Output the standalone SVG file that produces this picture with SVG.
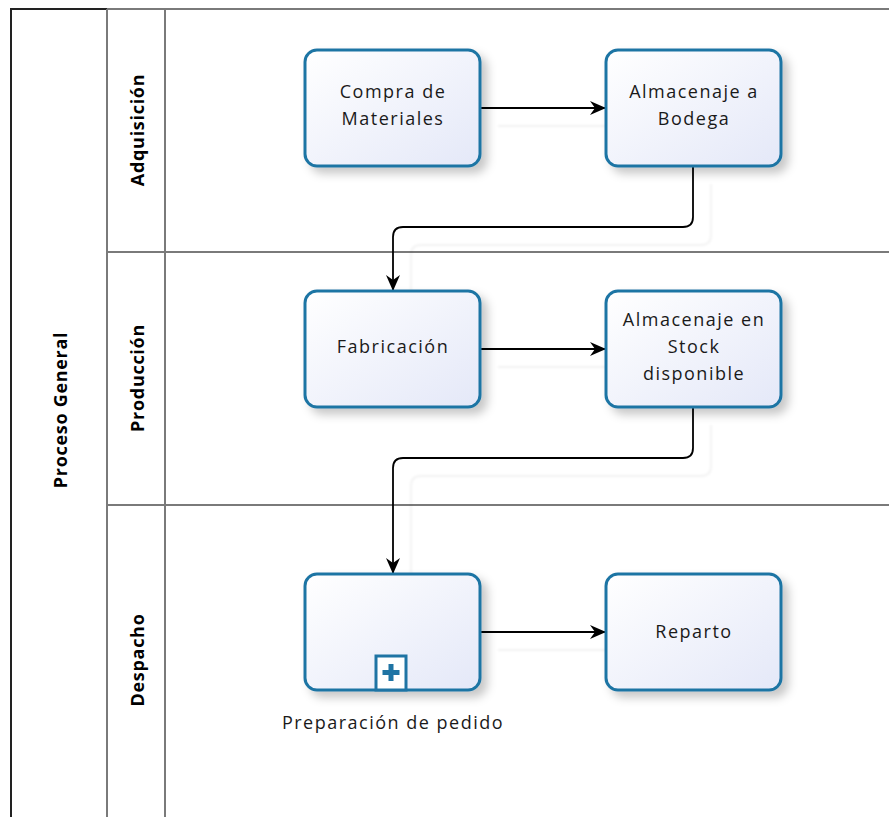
<svg xmlns="http://www.w3.org/2000/svg" width="889" height="817" viewBox="0 0 889 817">
  <defs>
    <linearGradient id="taskFill" x1="0" y1="0" x2="1" y2="1">
      <stop offset="0" stop-color="#ffffff"/>
      <stop offset="1" stop-color="#e4e8f8"/>
    </linearGradient>
    <filter id="shadow" x="-20%" y="-20%" width="150%" height="150%">
      <feDropShadow dx="6" dy="6" stdDeviation="5" flood-color="#000" flood-opacity="0.22"/>
    </filter>
    <filter id="connShadow" x="-10%" y="-10%" width="130%" height="140%">
      <feDropShadow dx="18" dy="18" stdDeviation="1.2" flood-color="#000" flood-opacity="0.05"/>
    </filter>
    <marker id="arrow" viewBox="0 0 16 16" refX="15" refY="8" markerWidth="16" markerHeight="16" markerUnits="userSpaceOnUse" orient="auto">
      <path d="M0,1 L16,8 L0,15 L5,8 Z" fill="#000"/>
    </marker>
  </defs>
  <style>
    .task { fill: url(#taskFill); stroke: #1f74a4; stroke-width: 3; filter: url(#shadow); }
    .label { font-family: "Open Sans", "Noto Sans", "DejaVu Sans", sans-serif; font-size: 18px; letter-spacing: 1.5px; fill: #1a1a1a; text-anchor: middle; }
    .lane { font-family: "Open Sans", "Noto Sans", "DejaVu Sans", sans-serif; font-size: 18px; letter-spacing: 0.7px; font-weight: bold; fill: #000; text-anchor: middle; dominant-baseline: central; }
    .laneLine { stroke: #7a7a7a; stroke-width: 2; fill: none; }
    .poolLine { stroke: #222; stroke-width: 2; fill: none; }
    .conn { stroke: #000; stroke-width: 1.8; fill: none; marker-end: url(#arrow); }
    .marker { fill: #ffffff; stroke: #1f74a4; stroke-width: 3; }
  </style>
  <rect x="0" y="0" width="889" height="817" fill="#ffffff"/>

  <g id="pool">
    <line class="laneLine" x1="107" y1="9" x2="889" y2="9"/>
    <line class="poolLine" x1="11" y1="9" x2="107" y2="9"/>
    <line class="poolLine" x1="11" y1="8" x2="11" y2="817"/>
    <line class="laneLine" x1="107" y1="9" x2="107" y2="817"/>
    <line class="laneLine" x1="165" y1="9" x2="165" y2="817"/>
    <text class="lane" transform="translate(60,410) rotate(-90)">Proceso General</text>
  </g>

  <g id="lane-adquisicion">
    <text class="lane" transform="translate(137,130) rotate(-90)">Adquisición</text>
  </g>
  <g id="lane-produccion">
    <line class="laneLine" x1="107" y1="252" x2="889" y2="252"/>
    <text class="lane" transform="translate(137,378) rotate(-90)">Producción</text>
  </g>
  <g id="lane-despacho">
    <line class="laneLine" x1="107" y1="505" x2="889" y2="505"/>
    <text class="lane" transform="translate(137,660) rotate(-90)">Despacho</text>
  </g>

  <g id="connectors" filter="url(#connShadow)">
    <path class="conn" d="M480,108 L605,108"/>
    <path class="conn" d="M693,166 L693,217 Q693,227 683,227 L403,227 Q393,227 393,237 L393,290"/>
    <path class="conn" d="M480,349 L605,349"/>
    <path class="conn" d="M693,407 L693,448 Q693,458 683,458 L403,458 Q393,458 393,468 L393,573"/>
    <path class="conn" d="M480,632 L605,632"/>
  </g>

  <g id="task-compra">
    <rect class="task" x="305" y="50" width="175" height="116" rx="12"/>
    <text class="label" x="393" y="98">Compra de</text>
    <text class="label" x="393" y="125">Materiales</text>
  </g>
  <g id="task-almacenaje-bodega">
    <rect class="task" x="606" y="50" width="175" height="116" rx="12"/>
    <text class="label" x="694" y="98">Almacenaje a</text>
    <text class="label" x="694" y="125">Bodega</text>
  </g>
  <g id="task-fabricacion">
    <rect class="task" x="305" y="291" width="175" height="116" rx="12"/>
    <text class="label" x="393" y="353">Fabricación</text>
  </g>
  <g id="task-almacenaje-stock">
    <rect class="task" x="606" y="291" width="175" height="116" rx="12"/>
    <text class="label" x="694" y="326">Almacenaje en</text>
    <text class="label" x="694" y="353">Stock</text>
    <text class="label" x="694" y="380">disponible</text>
  </g>
  <g id="subprocess-preparacion">
    <rect class="task" x="305" y="574" width="175" height="116" rx="12"/>
    <rect class="marker" x="376" y="656" width="30" height="34"/>
    <path d="M391,664 L391,681 M382.5,672.5 L399.5,672.5" stroke="#1f74a4" stroke-width="5" fill="none"/>
    <text class="label" x="393" y="729">Preparación de pedido</text>
  </g>
  <g id="task-reparto">
    <rect class="task" x="606" y="574" width="175" height="116" rx="12"/>
    <text class="label" x="694" y="638">Reparto</text>
  </g>
</svg>
